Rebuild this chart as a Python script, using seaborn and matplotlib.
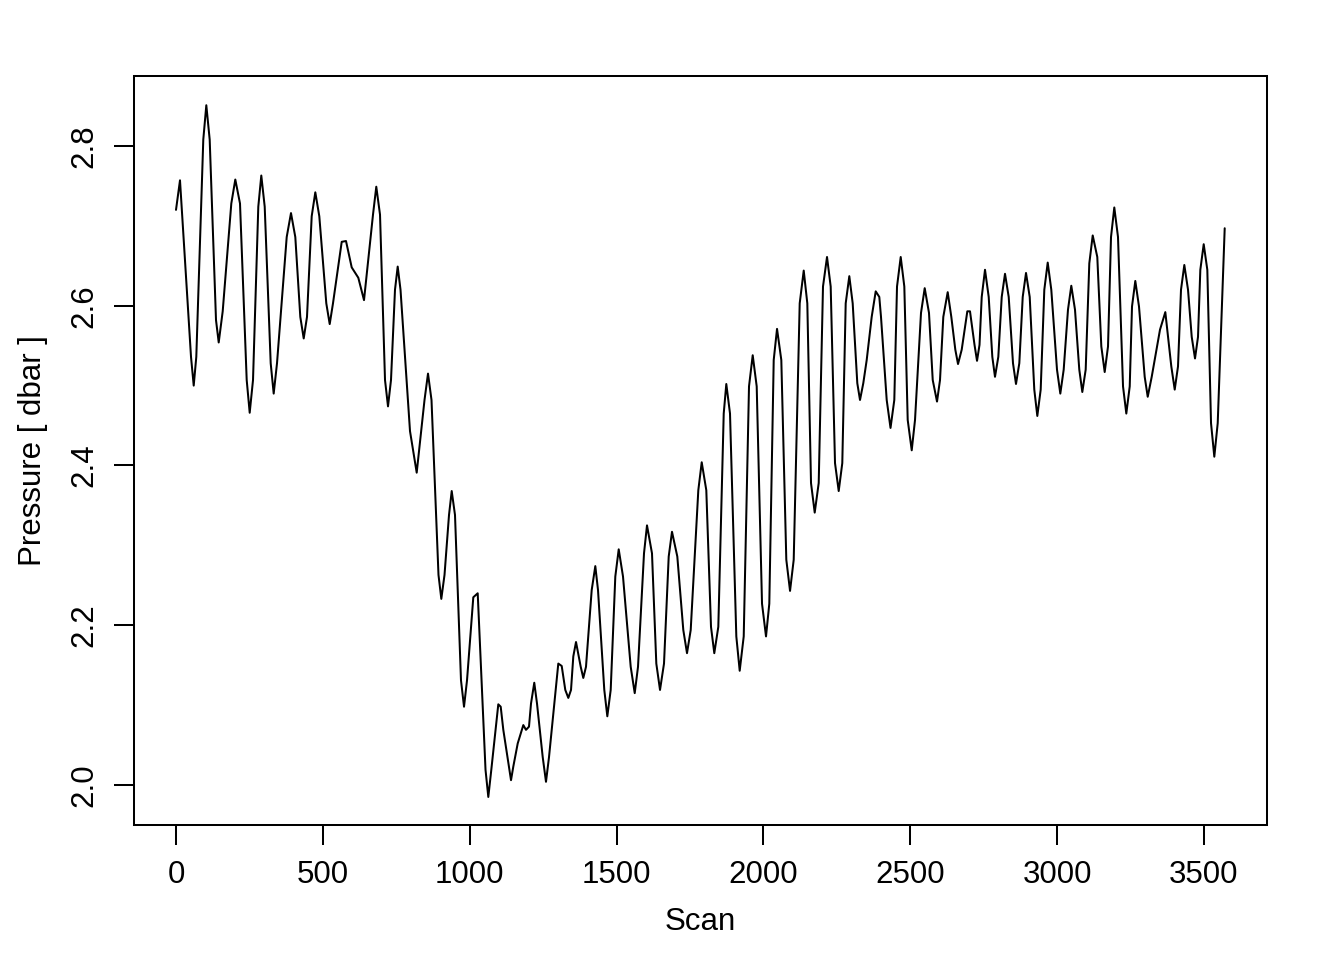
import numpy as np
import pandas as pd
import matplotlib
matplotlib.use("Agg")
import matplotlib.pyplot as plt
import seaborn as sns

# Valores: picos, valles y puntos en los flancos
scan = [0, 13.6, 51.1, 60.3, 69.1, 92.9, 103.2, 114.7, 136.2, 145.4,
        159, 188.3, 201.9, 217.9, 240.7, 250.9, 262.2, 280.2, 290.4, 302.0,
        322.4, 332.6, 343.9, 376.9, 391.5, 406.2, 423.2, 434.8, 446.0, 462.0,
        474.3, 487.9, 511.7, 523.3, 534.5, 564.2, 578.8, 598.2, 620.7, 640.1,
        670.7, 681.9, 694.6, 711.6, 721.8, 732.0, 745.6, 754.8, 764.4, 796.7,
        819.5, 846.1, 858.0, 869.9, 893.7, 903.3, 914.2, 929.5, 938.7, 949.9,
        970.3, 980.6, 990.8, 1012.2, 1027.2, 1053.8, 1063.3, 1073.5, 1097.3, 1105.5,
        1114.4, 1140.6, 1148.4, 1163.4, 1182.5, 1191.6, 1201.8, 1208.7, 1219.8, 1229.1,
        1248.5, 1259.7, 1270.0, 1301.6, 1313.2, 1325.4, 1335.7, 1344.9, 1352.7, 1361.9,
        1371.1, 1377.9, 1386.7, 1395.9, 1415.3, 1427.6, 1436.8, 1458.2, 1468.5, 1480.0,
        1495.7, 1507.3, 1521.9, 1548.1, 1561.8, 1573.0, 1593.4, 1603.6, 1620.6, 1635.3,
        1647.9, 1661.5, 1677.5, 1688.7, 1706.8, 1727.2, 1739.8, 1752.4, 1778.3, 1789.9,
        1805.5, 1821.5, 1832.7, 1846.4, 1864.8, 1873.6, 1886.2, 1907.7, 1919.2, 1932.9,
        1950.9, 1963.5, 1977.1, 1995.2, 2008.8, 2020.0, 2035.0, 2046.3, 2060.9, 2077.9,
        2090.6, 2103.1, 2123.5, 2137.2, 2149.4, 2162.0, 2174.6, 2188.2, 2202.8, 2216.5,
        2229.0, 2243.7, 2256.3, 2268.5, 2280.1, 2292.4, 2303.9, 2319.6, 2328.8, 2340.0,
        2351.6, 2368.6, 2382.3, 2394.5, 2400.3, 2419.7, 2432.7, 2445.6, 2454.8, 2467.4,
        2479.7, 2491.2, 2504.9, 2516.1, 2536.5, 2549.1, 2563.7, 2576.4, 2591.0, 2601.2,
        2612.4, 2627.4, 2639.7, 2653.3, 2662.5, 2675.1, 2694.2, 2703.3, 2718.7, 2727.2,
        2735.7, 2743.2, 2754.4, 2767.0, 2779.3, 2788.4, 2799.7, 2811.3, 2822.5, 2835.1,
        2849.7, 2859.9, 2871.2, 2882.8, 2894.0, 2906.6, 2922.2, 2932.5, 2944.0, 2956.3,
        2967.9, 2980.1, 2999.5, 3010.8, 3022.3, 3036.9, 3048.2, 3060.8, 3075.4, 3085.7,
        3097.2, 3109.5, 3121.1, 3136.7, 3150.4, 3161.9, 3173.2, 3183.4, 3194.6, 3207.2,
        3224.3, 3235.5, 3247.1, 3254.9, 3266.1, 3278.7, 3298.1, 3308.4, 3322.0, 3350.2,
        3368.3, 3388.7, 3400.3, 3411.5, 3421.7, 3433.0, 3445.6, 3458.2, 3469.4, 3479.6,
        3487.5, 3499.0, 3511.3, 3523.9, 3535.1, 3546.7, 3570.5]
presion = [2.720, 2.757, 2.536, 2.500, 2.536, 2.808, 2.851, 2.808, 2.582, 2.554,
           2.593, 2.728, 2.758, 2.728, 2.507, 2.466, 2.507, 2.724, 2.763, 2.724,
           2.528, 2.490, 2.528, 2.686, 2.716, 2.686, 2.586, 2.559, 2.586, 2.712,
           2.742, 2.712, 2.603, 2.577, 2.603, 2.680, 2.681, 2.648, 2.635, 2.607,
           2.714, 2.749, 2.714, 2.507, 2.474, 2.507, 2.620, 2.649, 2.620, 2.443,
           2.391, 2.482, 2.515, 2.482, 2.263, 2.233, 2.263, 2.338, 2.368, 2.338,
           2.131, 2.098, 2.131, 2.235, 2.240, 2.019, 1.985, 2.019, 2.101, 2.098,
           2.069, 2.006, 2.023, 2.052, 2.075, 2.069, 2.073, 2.102, 2.128, 2.102,
           2.035, 2.004, 2.035, 2.152, 2.149, 2.119, 2.109, 2.119, 2.161, 2.179,
           2.161, 2.148, 2.134, 2.148, 2.244, 2.274, 2.244, 2.119, 2.086, 2.119,
           2.261, 2.295, 2.261, 2.148, 2.115, 2.148, 2.290, 2.325, 2.290, 2.152,
           2.119, 2.152, 2.286, 2.317, 2.286, 2.194, 2.165, 2.194, 2.369, 2.404,
           2.369, 2.198, 2.165, 2.198, 2.465, 2.502, 2.465, 2.186, 2.143, 2.186,
           2.499, 2.538, 2.499, 2.227, 2.186, 2.227, 2.532, 2.571, 2.532, 2.282,
           2.243, 2.282, 2.603, 2.644, 2.603, 2.378, 2.341, 2.378, 2.624, 2.661,
           2.624, 2.403, 2.368, 2.403, 2.603, 2.637, 2.603, 2.503, 2.482, 2.503,
           2.532, 2.586, 2.618, 2.611, 2.586, 2.482, 2.447, 2.482, 2.624, 2.661,
           2.624, 2.457, 2.419, 2.457, 2.591, 2.622, 2.591, 2.507, 2.480, 2.507,
           2.586, 2.617, 2.586, 2.545, 2.527, 2.545, 2.593, 2.593, 2.551, 2.531,
           2.551, 2.611, 2.645, 2.611, 2.536, 2.511, 2.536, 2.611, 2.640, 2.611,
           2.528, 2.502, 2.528, 2.611, 2.641, 2.611, 2.495, 2.462, 2.495, 2.620,
           2.654, 2.620, 2.520, 2.490, 2.520, 2.595, 2.625, 2.595, 2.520, 2.492,
           2.520, 2.653, 2.688, 2.661, 2.549, 2.517, 2.549, 2.686, 2.723, 2.686,
           2.499, 2.465, 2.499, 2.599, 2.631, 2.599, 2.511, 2.486, 2.511, 2.570,
           2.592, 2.524, 2.495, 2.524, 2.620, 2.651, 2.620, 2.561, 2.534, 2.561,
           2.645, 2.677, 2.645, 2.453, 2.411, 2.453, 2.697]

datos = pd.DataFrame({'scan': scan, 'presion': presion})

sns.set_style('white')
plt.rcParams['font.family'] = ['Liberation Sans', 'DejaVu Sans']
plt.rcParams['text.color'] = 'black'
plt.rcParams['axes.labelcolor'] = 'black'
plt.rcParams['xtick.color'] = 'black'
plt.rcParams['ytick.color'] = 'black'

fig = plt.figure(figsize=(13.44, 9.6), dpi=100)
ax = fig.add_axes([134/1344, 1 - 825/960, (1267-134)/1344, (825-76)/960])

sns.lineplot(data=datos, x='scan', y='presion', color='black',
             linewidth=1.45, estimator=None, ax=ax)

ax.set_xlim(-143, 3714.5)
ax.set_ylim(1.9499, 2.8876)
ax.set_xticks(np.arange(0, 3501, 500))
ax.set_yticks([2.0, 2.2, 2.4, 2.6, 2.8])
ax.set_yticklabels(['2.0', '2.2', '2.4', '2.6', '2.8'])

for s in ax.spines.values():
    s.set_visible(True)
    s.set_color('black')
    s.set_linewidth(1.45)

ax.tick_params(axis='both', direction='out', length=14.4, width=1.45,
               color='black', labelcolor='black', labelsize=22.5, pad=10.5,
               bottom=True, left=True)
ax.tick_params(axis='y', labelrotation=90)
for lab in ax.get_yticklabels():
    lab.set_va('center')

ax.set_xlabel('Scan', fontsize=22.5, va='center')
ax.set_ylabel('Pressure [ dbar ]', fontsize=22.5, va='center')
ax.xaxis.set_label_coords(0.5, (825 - 922) / 749)
ax.yaxis.set_label_coords((33 - 134) / 1133, 0.5)

plt.savefig('out.png', dpi=100)
